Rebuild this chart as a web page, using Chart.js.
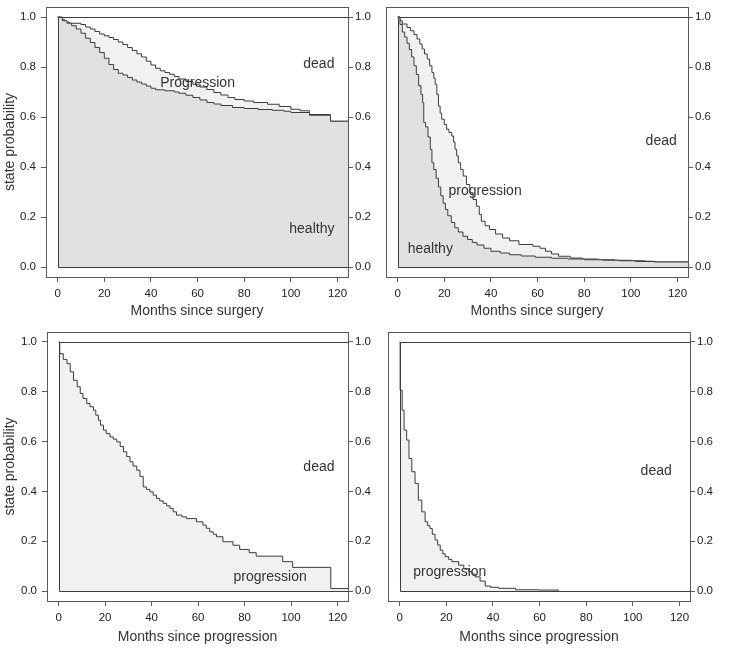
<!DOCTYPE html>
<html>
<head>
<meta charset="utf-8">
<script src="https://cdn.jsdelivr.net/npm/chart.js@4.4.1/dist/chart.umd.min.js"></script>
<style>
  body { margin: 0; background: #fff; }
  #wrap { position: relative; width: 742px; height: 657px; }
  canvas { position: absolute; }
</style>
</head>
<body>
<div id="wrap">
  <canvas id="c1" width="371" height="330" style="left:0;top:0"></canvas>
  <canvas id="c2" width="371" height="330" style="left:371px;top:0"></canvas>
  <canvas id="c3" width="371" height="327" style="left:0;top:330px"></canvas>
  <canvas id="c4" width="371" height="327" style="left:371px;top:330px"></canvas>
</div>
<script>
// axis ticks
var xTicks = [0, 20, 40, 60, 80, 100, 120];
var yTicks = [0, 0.2, 0.4, 0.6, 0.8, 1.0];

// top left: months since surgery, group 1
var s1HealthyTime = [0,2,4,6,8,10,12,14,16,18,20,22,24,26,28,30,32,34,36,38,40,42,46,50,52,55,58,61,64,67,70,75,80,86,92,97,100,108,117,124.5];
var s1HealthyProb = [1,0.985,0.975,0.965,0.952,0.935,0.915,0.898,0.878,0.858,0.835,0.81,0.79,0.775,0.768,0.758,0.748,0.74,0.732,0.724,0.715,0.709,0.705,0.7,0.695,0.687,0.678,0.668,0.658,0.652,0.646,0.638,0.634,0.63,0.627,0.623,0.618,0.607,0.583,0.583];
var s1AliveTime = [0,1,3,5,10,12,14,16,18,20,22,24,26,28,30,32,34,36,38,40,42,44,46,48,50,52,55,58,61,64,67,70,73,76,80,84,90,95,100,104,108,117,124.5];
var s1AliveProb = [1,0.99,0.98,0.975,0.97,0.96,0.952,0.942,0.932,0.925,0.918,0.91,0.9,0.89,0.878,0.866,0.853,0.84,0.823,0.808,0.795,0.785,0.778,0.771,0.762,0.752,0.742,0.731,0.72,0.71,0.698,0.688,0.678,0.67,0.664,0.658,0.651,0.642,0.631,0.625,0.61,0.583,0.583];

// top right: months since surgery, group 2
var s2HealthyTime = [0,1,2,3,4,5,6,7,8,9,10,10.7,11.2,12,13,14,14.7,15.5,16.5,17.5,18.5,19.5,20.5,21.5,23,24.5,26,28,30,32,34,37,40,44,48,53,59,66,73,80,88,95,102,110,124.5];
var s2HealthyProb = [1,0.97,0.94,0.92,0.895,0.87,0.84,0.805,0.77,0.725,0.69,0.658,0.578,0.56,0.52,0.47,0.417,0.39,0.355,0.32,0.285,0.255,0.23,0.205,0.178,0.157,0.14,0.123,0.11,0.098,0.088,0.075,0.063,0.056,0.049,0.044,0.039,0.035,0.032,0.029,0.027,0.025,0.022,0.02,0.019];
var s2AliveTime = [0,1,2,4,5.5,7,8.3,9.5,10.5,11.5,12.7,13.7,14.7,15.5,16.1,16.8,17.5,18.2,18.9,20,21,22,23.2,24,24.6,25.3,26,27,28.1,29.5,30.9,32.3,33.8,35,35.9,37.5,39.4,42,45,48,52,58,61,63.4,66,69,74,79,86,93,100,106,110,124.5];
var s2AliveProb = [1,0.985,0.972,0.958,0.945,0.93,0.912,0.892,0.872,0.852,0.832,0.805,0.778,0.755,0.731,0.69,0.644,0.615,0.591,0.57,0.551,0.538,0.524,0.5,0.471,0.445,0.417,0.39,0.364,0.33,0.297,0.27,0.243,0.21,0.183,0.165,0.15,0.132,0.116,0.105,0.09,0.083,0.075,0.063,0.052,0.043,0.036,0.032,0.029,0.027,0.025,0.023,0.02,0.019];

// bottom left: months since progression, group 1
var p1ProgTime = [0,0.5,2,3.6,5,6.4,8,9.3,10.5,12.1,13.5,15,16,17.1,18,19.3,20.5,22.1,23.5,25,26.5,27.9,29.3,30.7,32,33.6,35,36.4,37.8,39.3,40.7,42.1,43.5,45,46.5,47.9,49.3,50.7,53,55,59.3,62.1,63.5,65,66.5,67.9,70.7,75,77.9,82,85,96.4,100.7,117.1,124.5];
var p1ProgProb = [1,0.953,0.93,0.913,0.88,0.846,0.82,0.793,0.773,0.753,0.74,0.726,0.706,0.686,0.666,0.646,0.632,0.619,0.61,0.599,0.58,0.559,0.54,0.519,0.502,0.485,0.46,0.418,0.408,0.398,0.385,0.372,0.362,0.352,0.342,0.332,0.318,0.305,0.298,0.291,0.278,0.265,0.252,0.238,0.228,0.218,0.198,0.184,0.167,0.154,0.14,0.118,0.095,0.01,0.01];

// bottom right: months since progression, group 2
var p2ProgTime = [0,0.2,1.1,1.9,3,4,5.2,6.6,8,9.5,10.9,12,13,14,15.2,16.3,17.4,18.5,19.5,21,22.4,25.3,27.5,29.6,31,32.4,34.5,36.7,39,42.5,49.7,59.7,68.3];
var p2ProgProb = [1,0.806,0.726,0.646,0.606,0.532,0.479,0.432,0.365,0.318,0.278,0.262,0.251,0.228,0.205,0.185,0.164,0.15,0.138,0.127,0.118,0.104,0.09,0.078,0.068,0.057,0.04,0.02,0.015,0.011,0.005,0.004,0.003];

var lineColor = '#3c3c3c';
var boxColor = '#5a5a5a';
var darkFill = '#e1e1e1';
var lightFill = '#f1f1f1';
var fontFamily = '"Liberation Sans", Arial, sans-serif';

function toPoints(times, probs) {
  return times.map(function (t, i) { return { x: t, y: probs[i] }; });
}

// draws the plot box, the 0/1 frame of the states and the state names
var framePlugin = {
  id: 'frame',
  afterDatasetsDraw: function (chart) {
    var a = chart.chartArea, ctx = chart.ctx;
    var xs = chart.scales.x, ys = chart.scales.y;
    var x0 = Math.round(xs.getPixelForValue(0)) + 0.5;
    var y0 = Math.round(ys.getPixelForValue(0)) + 0.5;
    var y1 = Math.round(ys.getPixelForValue(1)) + 0.5;
    ctx.save();
    ctx.lineWidth = 1;
    ctx.strokeStyle = lineColor;
    ctx.beginPath();
    ctx.moveTo(a.right, y1);
    ctx.lineTo(x0, y1);
    ctx.lineTo(x0, y0);
    ctx.lineTo(a.right, y0);
    ctx.stroke();
    ctx.strokeStyle = boxColor;
    ctx.strokeRect(Math.round(a.left) + 0.5, Math.round(a.top) + 0.5,
      Math.round(a.right - a.left), Math.round(a.bottom - a.top));

    var notes = chart.options.plugins.frame.notes || [];
    ctx.fillStyle = '#333';
    ctx.font = '14px ' + fontFamily;
    ctx.textAlign = 'center';
    ctx.textBaseline = 'middle';
    notes.forEach(function (n) {
      ctx.fillText(n.text, xs.getPixelForValue(n.x), ys.getPixelForValue(n.y));
    });
    ctx.restore();
  }
};

function makePanel(id, cfg) {
  var datasets = cfg.curves.map(function (c, i) {
    return {
      data: toPoints(c.time, c.prob),
      stepped: true,
      borderColor: lineColor,
      borderWidth: 1,
      pointRadius: 0,
      fill: i === 0 ? 'origin' : '-1',
      backgroundColor: c.fill
    };
  });

  var tickFont = { family: fontFamily, size: 11.5 };
  var titleFont = { family: fontFamily, size: 14 };

  var yBase = {
    type: 'linear',
    min: -0.04,
    max: 1.04,
    afterBuildTicks: function (s) { s.ticks = yTicks.map(function (v) { return { value: v }; }); },
    grid: { drawOnChartArea: false, tickLength: 5, color: boxColor },
    border: { display: false }
  };

  new Chart(document.getElementById(id), {
    type: 'line',
    data: { datasets: datasets },
    options: {
      responsive: false,
      animation: false,
      layout: { padding: { top: cfg.top, left: cfg.padLeft, right: 0, bottom: 0 } },
      plugins: {
        legend: { display: false },
        tooltip: { enabled: false },
        frame: { notes: cfg.notes }
      },
      scales: {
        x: {
          type: 'linear',
          min: -5,
          max: 124.5,
          afterBuildTicks: function (s) { s.ticks = xTicks.map(function (v) { return { value: v }; }); },
          afterFit: function (s) { s.height = cfg.xHeight; s.paddingLeft = 0; s.paddingRight = 0; },
          grid: { drawOnChartArea: false, tickLength: 5, color: boxColor },
          border: { display: false },
          ticks: { autoSkip: false, maxRotation: 0, padding: 5, color: '#222', font: tickFont },
          title: { display: true, text: cfg.xTitle, color: '#333', padding: { top: 4, bottom: cfg.titlePad }, font: titleFont }
        },
        y: Object.assign({}, yBase, {
          position: 'left',
          display: cfg.leftAxis,
          afterFit: function (s) { s.width = cfg.leftWidth; s.paddingTop = 0; s.paddingBottom = 0; },
          ticks: { padding: 5, color: '#222', font: tickFont, callback: function (v) { return v.toFixed(1); } },
          title: { display: true, text: 'state probability', color: '#333', padding: { top: 2, bottom: 0 }, font: titleFont }
        }),
        y2: Object.assign({}, yBase, {
          position: 'right',
          afterFit: function (s) { s.width = cfg.rightWidth; s.paddingTop = 0; s.paddingBottom = 0; },
          ticks: { padding: 2, color: '#222', font: tickFont, callback: function (v) { return v.toFixed(1); } }
        })
      }
    },
    plugins: [framePlugin]
  });
}

makePanel('c1', {
  curves: [
    { time: s1HealthyTime, prob: s1HealthyProb, fill: darkFill },
    { time: s1AliveTime, prob: s1AliveProb, fill: lightFill }
  ],
  notes: [
    { text: 'dead', x: 112, y: 0.81 },
    { text: 'Progression', x: 60, y: 0.735 },
    { text: 'healthy', x: 109, y: 0.153 }
  ],
  xTitle: 'Months since surgery',
  top: 7, padLeft: 0, leftAxis: true, leftWidth: 46, rightWidth: 23, xHeight: 53, titlePad: 10
});

makePanel('c2', {
  curves: [
    { time: s2HealthyTime, prob: s2HealthyProb, fill: darkFill },
    { time: s2AliveTime, prob: s2AliveProb, fill: lightFill }
  ],
  notes: [
    { text: 'dead', x: 113, y: 0.502 },
    { text: 'progression', x: 37.5, y: 0.305 },
    { text: 'healthy', x: 14, y: 0.072 }
  ],
  xTitle: 'Months since surgery',
  top: 7, padLeft: 15, leftAxis: false, leftWidth: 0, rightWidth: 54, xHeight: 53, titlePad: 10
});

makePanel('c3', {
  curves: [
    { time: p1ProgTime, prob: p1ProgProb, fill: lightFill }
  ],
  notes: [
    { text: 'dead', x: 112, y: 0.498 },
    { text: 'progression', x: 91, y: 0.056 }
  ],
  xTitle: 'Months since progression',
  top: 2, padLeft: 0, leftAxis: true, leftWidth: 47, rightWidth: 23, xHeight: 56, titlePad: 11
});

makePanel('c4', {
  curves: [
    { time: p2ProgTime, prob: p2ProgProb, fill: lightFill }
  ],
  notes: [
    { text: 'dead', x: 110, y: 0.482 },
    { text: 'progression', x: 21.5, y: 0.076 }
  ],
  xTitle: 'Months since progression',
  top: 2, padLeft: 17, leftAxis: false, leftWidth: 0, rightWidth: 52, xHeight: 56, titlePad: 11
});
</script>
</body>
</html>
